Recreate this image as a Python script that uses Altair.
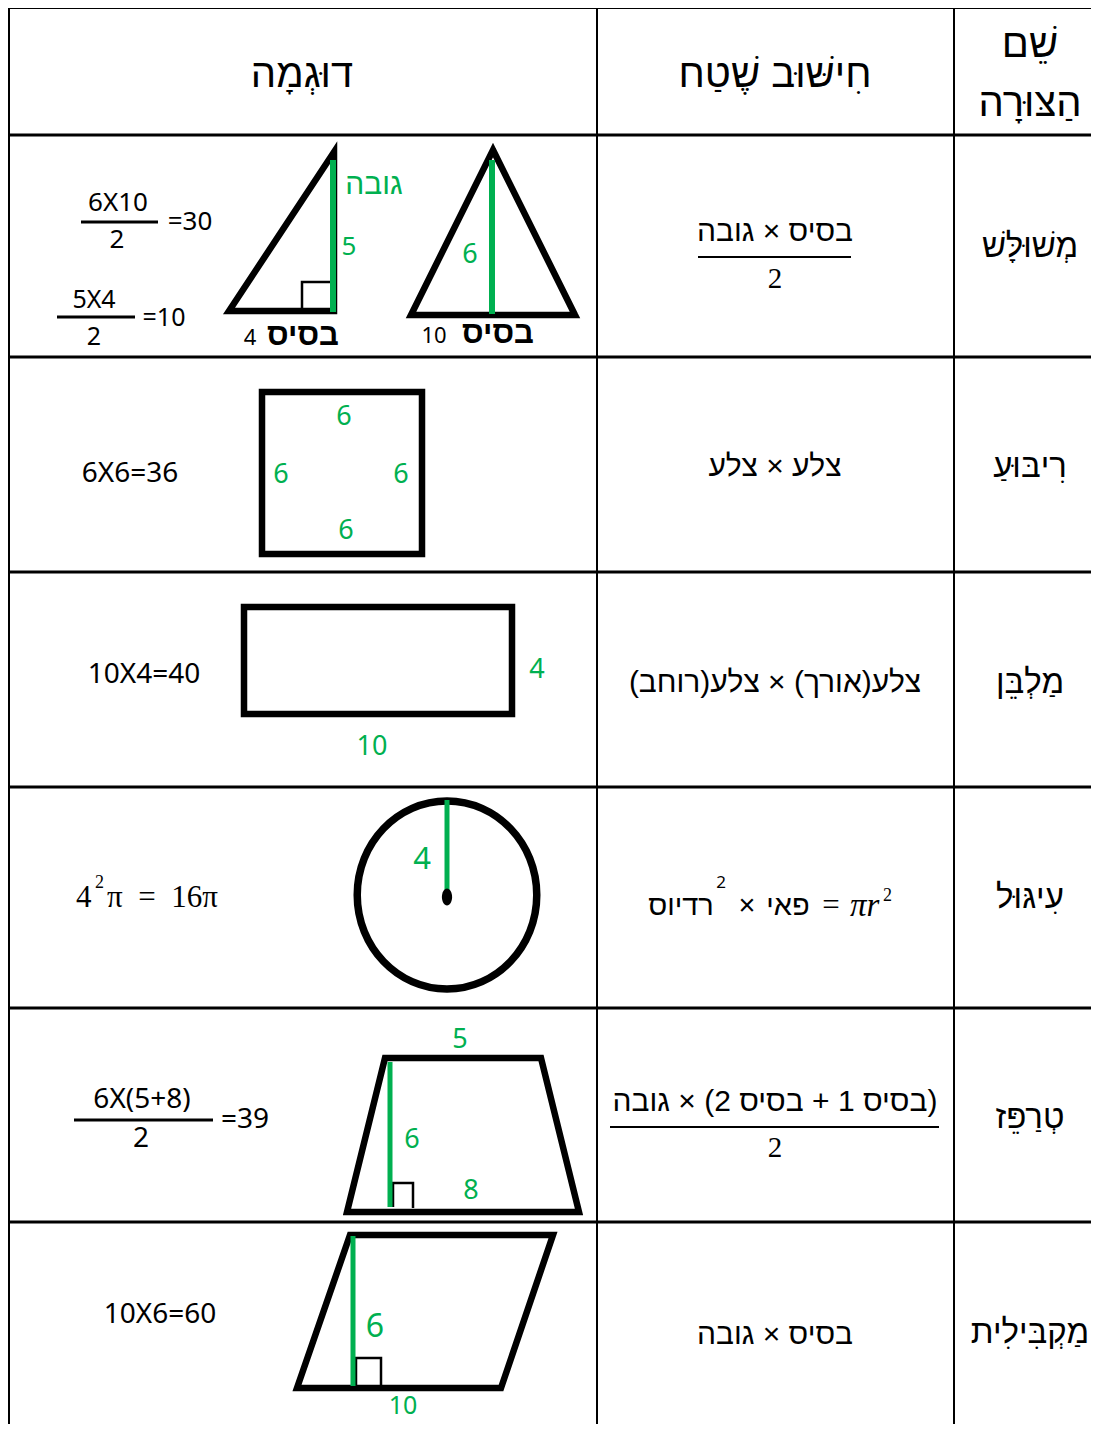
import altair as alt
import pandas as pd

# ---------------- data ----------------
GREEN = "#00B050"
BLACK = "#000000"
RLM = "\u200f"

# table grid (page coordinates): horizontal rules y positions, vertical rules x positions
row_lines_y = [135, 357, 572, 787, 1008, 1222]
col_lines_x = [9, 597, 954]
top_line_y = 8

# fraction bars: x1, x2, y, width
frac_bars = [
    (698, 851, 257, 2),
    (610, 939, 1127, 2),
    (81, 158, 222, 3),
    (57, 135, 317, 3),
    (74, 213, 1120, 3),
]

# green height lines: x, y1, y2, width
green_lines = [
    (333, 160, 312, 6),
    (492, 160, 314, 6),
    (447, 800, 896, 5),
    (390, 1062, 1207, 5),
    (353, 1236, 1386, 5),
]

# shape outlines (closed polygons): name -> vertices
shapes = {
    "right_triangle": [(334, 152), (334, 311), (229, 311)],
    "isosceles": [(493, 150), (575, 315), (411, 315)],
    "square": [(262, 392), (422, 392), (422, 554), (262, 554)],
    "rectangle": [(244, 607), (512, 607), (512, 714), (244, 714)],
    "trapezoid": [(385, 1058), (541, 1058), (579, 1212), (347, 1212)],
    "parallelogram": [(350, 1235), (553, 1235), (501, 1388), (297, 1388)],
}
shape_width = 6.5

# right-angle markers (open polylines)
right_angles = {
    "ra_tri": [(302, 310), (302, 282), (330, 282)],
    "ra_trap": [(393, 1207), (393, 1183), (413, 1183), (413, 1208)],
    "ra_para": [(356, 1386), (356, 1358), (381, 1358), (381, 1386)],
}

# circle
circle_center = (447, 895)
circle_diam = 188
dot_center = (447, 897)

# ---- texts ----
header_texts = ["דוּגְמָה", "חִישּׁוּב שֶׁטַח", "שֵׁם", "הַצּוּרָה"]
header_x = [302, 775, 1030, 1030]
header_y = [75, 75, 45, 104]

shape_names = ["מְשׁוּלָּשׁ", "רִיבּוּעַ", "מַלְבֵּן", "עִיגּוּל", "טְרַפֵּז", "מַקְבִּילִית"]
name_y = [247, 467, 683, 898, 1118, 1333]

formula_texts = ["בסיס × גובה", "צלע × צלע", "צלע(אורך) × צלע(רוחב)",
                 "(בסיס 1 + בסיס 2) × גובה", "בסיס × גובה"]
formula_y = [232, 467, 683, 1102, 1335]

circle_formula_words = ["רדיוס", "×", "פאי"]
circle_formula_x = [681, 747, 788]

example_words = ["בסיס", "בסיס"]
example_words_x = [303, 498]
example_words_y = [336, 334]

# serif math, centred pieces
serif_texts = ["2", "2", "="]
serif_x = [775, 775, 831]
serif_y = [279, 1148, 906]
serif_size = [29, 29, 31]
# serif math, left-aligned pieces
serif_left_texts = ["4", "2", "π\u2002=\u200216π", "2"]
serif_left_x = [76, 95, 107, 883]
serif_left_y = [898, 883, 898, 896]
serif_left_size = [31, 18, 31, 18]
pi_r = ("πr", 850, 906, 33)

black_nums = ["6X10", "2", "=30", "5X4", "2", "=10", "4", "10", "6X6=36", "10X4=40",
              "6X(5+8)", "2", "=39", "10X6=60", "2"]
black_nums_x = [118, 117, 190, 94, 94, 164, 250, 434, 130, 144, 142, 141, 245, 160, 721]
black_nums_y = [203, 240, 222, 300, 337, 318, 338, 336, 474, 675, 1100, 1139, 1120, 1315, 883]
black_nums_size = [26, 26, 26, 25, 25, 25, 22, 22, 28, 28, 28, 28, 28, 28, 17]

green_texts = ["גובה", "5", "6", "6", "6", "6", "6", "4", "10", "4", "5", "6", "8", "6", "10"]
green_x = [374, 349, 470, 344, 281, 401, 346, 537, 372, 422, 460, 412, 471, 375, 403]
green_y = [185, 247, 255, 417, 475, 475, 531, 670, 747, 860, 1040, 1140, 1191, 1327, 1406]
green_size = [30, 26, 27, 27, 27, 27, 27, 27, 27, 31, 27, 27, 27, 32, 25]

# ---------------- chart helpers ----------------
W, H = 1083, 1416
xs = alt.Scale(domain=[8, 8 + W], nice=False, zero=False)
ys = alt.Scale(domain=[8, 8 + H], nice=False, zero=False, reverse=True)
X = lambda f="x": alt.X(f"{f}:Q", scale=xs, axis=None)
Y = lambda f="y": alt.Y(f"{f}:Q", scale=ys, axis=None)

HEB = "Liberation Sans, DejaVu Sans, sans-serif"
NUM = "Noto Sans, Open Sans, sans-serif"
SERIF = "Liberation Serif, DejaVu Serif, serif"

# segments
segs = []
segs.append(dict(x=8, y=top_line_y, x2=1100, y2=top_line_y, w=2, c=BLACK))
for yy in row_lines_y:
    segs.append(dict(x=8, y=yy, x2=1100, y2=yy, w=3, c=BLACK))
for xx in col_lines_x:
    segs.append(dict(x=xx, y=7, x2=xx, y2=1440, w=2, c=BLACK))
for x1, x2, yy, w in frac_bars:
    segs.append(dict(x=x1, y=yy, x2=x2, y2=yy, w=w, c=BLACK))
seg_df = pd.DataFrame(segs)
green_df = pd.DataFrame([dict(x=x, y=y1, x2=x, y2=y2, w=w, c=GREEN) for x, y1, y2, w in green_lines])


def rules(df):
    return alt.Chart(df).mark_rule(strokeCap="butt").encode(
        x=X(), y=Y(), x2=alt.X2("x2:Q"), y2=alt.Y2("y2:Q"),
        strokeWidth=alt.StrokeWidth("w:Q", scale=None),
        color=alt.Color("c:N", scale=None),
    )


poly_rows = []
for name, pts in shapes.items():
    loop = pts + [pts[0], pts[1]]
    for i, (px, py) in enumerate(loop):
        poly_rows.append(dict(id=name, o=i, x=px, y=py, w=shape_width))
for name, pts in right_angles.items():
    for i, (px, py) in enumerate(pts):
        poly_rows.append(dict(id=name, o=i, x=px, y=py, w=2.5))
poly_df = pd.DataFrame(poly_rows)
polys = alt.Chart(poly_df).mark_line(color=BLACK, strokeJoin="miter", strokeCap="butt").encode(
    x=X(), y=Y(), detail="id:N", order="o:Q",
    strokeWidth=alt.StrokeWidth("w:Q", scale=None),
)

circle = alt.Chart(pd.DataFrame([dict(x=circle_center[0], y=circle_center[1])])).mark_point(
    shape="M0,-1A0.955,1 0 1,1 0,1A0.955,1 0 1,1 0,-1Z", size=circle_diam ** 2,
    filled=False, color=BLACK, strokeWidth=7.5, opacity=1,
).encode(x=X(), y=Y())
dot = alt.Chart(pd.DataFrame([dict(x=dot_center[0], y=dot_center[1])])).mark_point(
    shape="M0,-1A0.6,1 0 1,1 0,1A0.6,1 0 1,1 0,-1Z", size=17 ** 2,
    filled=True, color=BLACK, opacity=1,
).encode(x=X(), y=Y())


def texts(t, x, y, size, color, font, style="normal", weight="normal", rtl=False, align="center"):
    if rtl:
        t = [RLM + s + RLM for s in t]
    n = len(t)
    if not isinstance(size, list):
        size = [size] * n
    df = pd.DataFrame(dict(t=t, x=x, y=y, s=size, c=[color] * n))
    return alt.Chart(df).mark_text(
        font=font, fontStyle=style, fontWeight=weight, align=align, baseline="middle"
    ).encode(
        x=X(), y=Y(), text="t:N",
        size=alt.Size("s:Q", scale=None),
        color=alt.Color("c:N", scale=None),
    )


layers = [
    rules(seg_df),
    polys,
    circle,
    rules(green_df),
    dot,
    texts(header_texts, header_x, header_y, 40, BLACK, HEB),
    texts(shape_names, [1030] * 6, name_y, 33, BLACK, HEB),
    texts(formula_texts, [775] * 5, formula_y, 30, BLACK, HEB, rtl=True),
    texts(circle_formula_words, circle_formula_x, [906] * 3, 29, BLACK, HEB),
    texts(example_words, example_words_x, example_words_y, 31, BLACK, HEB, weight="bold"),
    texts(serif_texts, serif_x, serif_y, serif_size, BLACK, SERIF),
    texts(serif_left_texts, serif_left_x, serif_left_y, serif_left_size, BLACK, SERIF, align="left"),
    texts([pi_r[0]], [pi_r[1]], [pi_r[2]], pi_r[3], BLACK, SERIF, style="italic", align="left"),
    texts(black_nums, black_nums_x, black_nums_y, black_nums_size, BLACK, NUM),
    texts(green_texts[:1], green_x[:1], green_y[:1], green_size[:1], GREEN, HEB),
    texts(green_texts[1:], green_x[1:], green_y[1:], green_size[1:], GREEN, NUM),
]

chart = alt.layer(*layers).properties(
    width=W, height=H, padding=0, autosize=alt.AutoSizeParams(type="none"), background="white"
).configure_view(stroke=None)

chart.save("out.html", embed_options={"renderer": "svg", "actions": False})
